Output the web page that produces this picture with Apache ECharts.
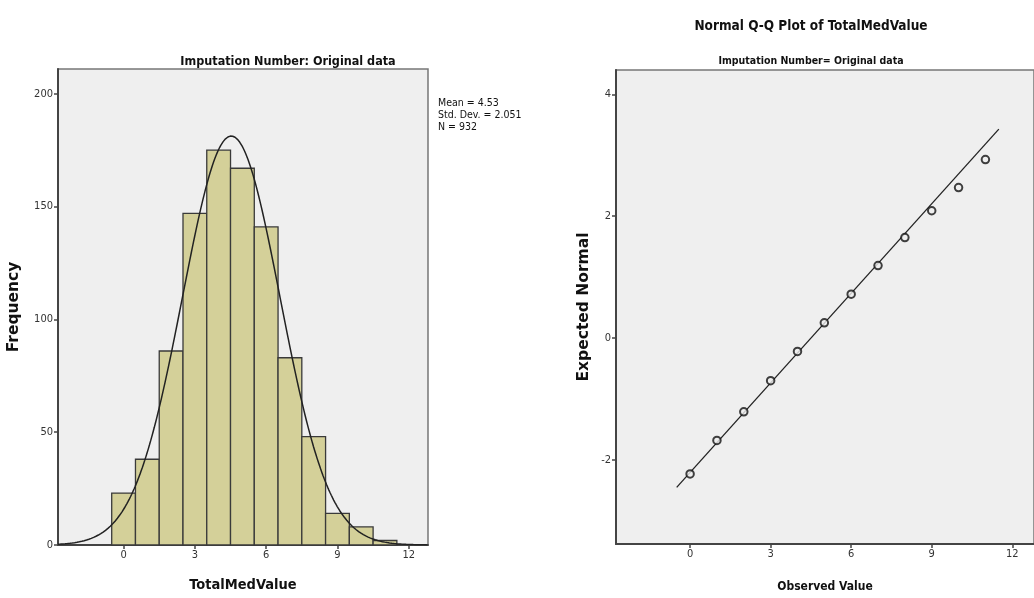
<!DOCTYPE html>
<html>
<head>
<meta charset="utf-8">
<script src="https://cdn.jsdelivr.net/npm/echarts@6/dist/echarts.min.js"></script>
<style>
html,body{margin:0;padding:0;background:#fff}
#chart{width:1034px;height:598px}
</style>
</head>
<body>
<div id="chart"></div>
<script>
// histogram bins (value = bin centre, width 1)
var binCenters = [0, 1, 2, 3, 4, 5, 6, 7, 8, 9, 10, 11];
var binCounts = [23, 38, 86, 147, 175, 167, 141, 83, 48, 14, 8, 2];
var histMean = 4.53, histSd = 2.051, histN = 932;
// normal Q-Q points
var qqObserved = [0, 1, 2, 3, 4, 5, 6, 7, 8, 9, 10, 11];
var qqExpected = [-2.23, -1.68, -1.21, -0.70, -0.22, 0.25, 0.72, 1.19, 1.65, 2.09, 2.47, 2.93];
var qqLine = [[-0.5, -2.45], [11.5, 3.43]];
// tick labels
var xTicks = [0, 3, 6, 9, 12];
var freqTicks = [0, 50, 100, 150, 200];
var normTicks = [-2, 0, 2, 4];

var NARROW = "'Liberation Sans Narrow','DejaVu Sans Condensed',sans-serif";
var xMin = -2.76, xMax = 12.81;

var barData = [];
for (var i = 0; i < binCenters.length; i++) {
    barData.push([binCenters[i], binCounts[i]]);
}
// fitted normal curve from the printed mean / sd / N
var curveData = [];
for (var x = xMin; x <= xMax + 0.001; x += 0.05) {
    var z = (x - histMean) / histSd;
    curveData.push([x, histN / (histSd * Math.sqrt(2 * Math.PI)) * Math.exp(-0.5 * z * z)]);
}
var qqData = [];
for (var j = 0; j < qqObserved.length; j++) {
    qqData.push([qqObserved[j], qqExpected[j]]);
}

function axisCommon(ticks) {
    return {
        axisLine: {show: true, onZero: false, lineStyle: {color: '#444', width: 2}},
        axisTick: {show: true, length: 4, customValues: ticks, lineStyle: {color: '#444', width: 1.5}},
        axisLabel: {customValues: ticks, color: '#333', fontSize: 11, fontFamily: NARROW, margin: 5},
        splitLine: {show: false}
    };
}

var option = {
    animation: false,
    backgroundColor: '#fff',
    title: [{
        text: 'Normal Q-Q Plot of TotalMedValue',
        left: 806, top: 14, textAlign: 'center',
        textStyle: {fontSize: 13.5, fontWeight: 'bold', color: '#111', fontFamily: NARROW}
    }, {
        text: 'Imputation Number: Original data',
        left: 283, top: 50, textAlign: 'center',
        textStyle: {fontSize: 12.5, fontWeight: 'bold', color: '#111', fontFamily: NARROW}
    }, {
        text: 'Imputation Number= Original data',
        left: 806, top: 51, textAlign: 'center',
        textStyle: {fontSize: 10.5, fontWeight: 'bold', color: '#111', fontFamily: NARROW}
    }, {
        text: 'Mean = 4.53\nStd. Dev. = 2.051\nN = 932',
        left: 433, top: 92,
        textStyle: {fontSize: 10.5, fontWeight: 'normal', color: '#111', fontFamily: NARROW, lineHeight: 12}
    }],
    grid: [
        {left: 58, top: 69, right: 606, bottom: 50, show: true, backgroundColor: '#efefef', borderColor: '#777', borderWidth: 1.5},
        {left: 616, top: 70, right: -3, bottom: 53, show: true, backgroundColor: '#efefef', borderColor: '#777', borderWidth: 1.5}
    ],
    xAxis: [
        Object.assign(axisCommon(xTicks), {
            type: 'value', gridIndex: 0, min: xMin, max: xMax,
            name: 'TotalMedValue', nameLocation: 'middle', nameGap: 33,
            nameTextStyle: {fontSize: 14.5, fontWeight: 'bold', color: '#111', fontFamily: NARROW}
        }),
        Object.assign(axisCommon(xTicks), {
            type: 'value', gridIndex: 1, min: xMin, max: xMax,
            name: 'Observed Value', nameLocation: 'middle', nameGap: 37,
            nameTextStyle: {fontSize: 12, fontWeight: 'bold', color: '#111', fontFamily: NARROW}
        })
    ],
    yAxis: [
        Object.assign(axisCommon(freqTicks), {
            type: 'value', gridIndex: 0, min: 0, max: 211,
            name: 'Frequency', nameLocation: 'middle', nameGap: 36,
            nameTextStyle: {fontSize: 15.5, fontWeight: 'bold', color: '#111', fontFamily: "'DejaVu Sans',sans-serif"}
        }),
        Object.assign(axisCommon(normTicks), {
            type: 'value', gridIndex: 1, min: -3.38, max: 4.40,
            name: 'Expected Normal', nameLocation: 'middle', nameGap: 24,
            nameTextStyle: {fontSize: 15.5, fontWeight: 'bold', color: '#111', fontFamily: "'DejaVu Sans',sans-serif"}
        })
    ],
    series: [{
        type: 'custom',
        xAxisIndex: 0, yAxisIndex: 0,
        data: barData,
        renderItem: function (params, api) {
            var p0 = api.coord([api.value(0) - 0.5, api.value(1)]);
            var p1 = api.coord([api.value(0) + 0.5, 0]);
            return {
                type: 'rect',
                shape: {x: p0[0], y: p0[1], width: p1[0] - p0[0], height: p1[1] - p0[1]},
                style: {fill: '#d4d099', stroke: '#3a3a3a', lineWidth: 1.3}
            };
        },
        z: 2
    }, {
        type: 'line',
        xAxisIndex: 0, yAxisIndex: 0,
        data: curveData,
        showSymbol: false,
        lineStyle: {color: '#222', width: 1.5},
        z: 3
    }, {
        type: 'line',
        xAxisIndex: 1, yAxisIndex: 1,
        data: qqLine,
        showSymbol: false,
        lineStyle: {color: '#222', width: 1.3},
        z: 2
    }, {
        type: 'scatter',
        xAxisIndex: 1, yAxisIndex: 1,
        data: qqData,
        symbol: 'circle',
        symbolSize: 7.5,
        itemStyle: {color: '#efefef', borderColor: '#111', borderWidth: 2},
        z: 3
    }]
};

var chart = echarts.init(document.getElementById('chart'));
chart.setOption(option);
</script>
</body>
</html>
